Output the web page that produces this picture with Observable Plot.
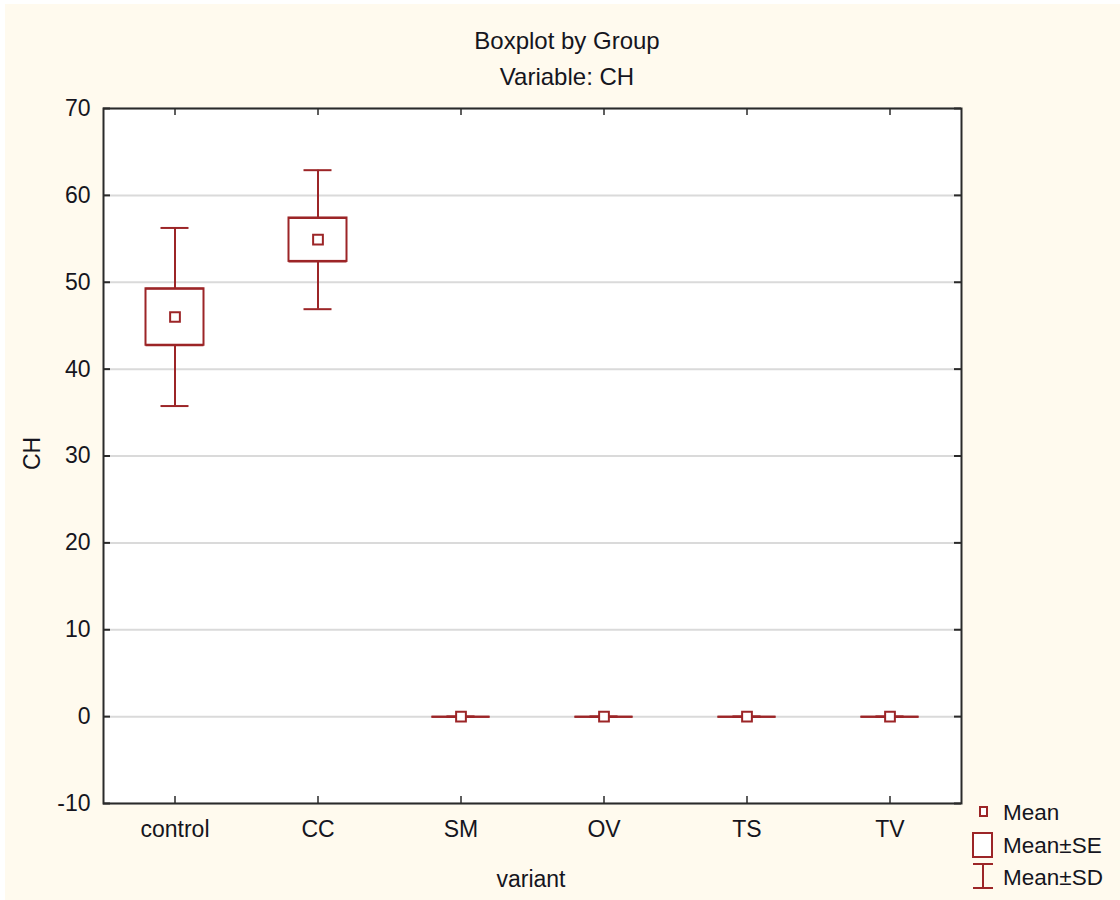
<!DOCTYPE html>
<html>
<head>
<meta charset="utf-8">
<script src="https://cdn.jsdelivr.net/npm/d3@7"></script>
<script src="https://cdn.jsdelivr.net/npm/@observablehq/plot@0.6"></script>
<style>
  html, body { margin: 0; padding: 0; background: #ffffff; }
  #page { position: relative; width: 1120px; height: 900px; overflow: hidden; background: #ffffff;
          font-family: "Liberation Sans", Arial, sans-serif; color: #151520; }
  #cream { position: absolute; left: 5px; top: 4px; right: 0; bottom: 0; background: #fffaee; }
  #chart { position: absolute; left: 0; top: 0; }
  .title { position: absolute; left: 0; width: 1134px; text-align: center; font-size: 24px; line-height: 1; }
  .axlabel { position: absolute; font-size: 23px; line-height: 1; }
  #legend { position: absolute; left: 970px; top: 798px; font-size: 22.5px; }
  #legend .row { position: absolute; left: 0; white-space: nowrap; }
  #legend svg { position: absolute; left: 0; }
  #legend span { position: absolute; left: 33px; }
</style>
</head>
<body>
<div id="page">
  <div id="cream"></div>
  <div class="title" style="top:29px">Boxplot by Group</div>
  <div class="title" style="top:65px">Variable: CH</div>
  <div id="chart"></div>
  <div class="axlabel" style="left:21px; top:446px; width:24px; height:24px;">
    <div style="transform: rotate(-90deg); transform-origin: 12px 12px; width:40px;">CH</div>
  </div>
  <div class="axlabel" style="left:0; width:1062px; text-align:center; top:868px;">variant</div>
  <div id="legend"></div>
</div>
<script>
// ---- data ----
const groups = ["control", "CC", "SM", "OV", "TS", "TV"];
const means  = [46.0, 54.9, 0, 0, 0, 0];
const ses    = [3.25, 2.5, 0, 0, 0, 0];
const sds    = [10.25, 8.0, 0, 0, 0, 0];
const yTicks = [-10, 0, 10, 20, 30, 40, 50, 60, 70];
const legendLabels = ["Mean", "Mean\u00B1SE", "Mean\u00B1SD"];

const data = groups.map((g, i) => ({group: g, mean: means[i], se: ses[i], sd: sds[i]}));

const RED = "#9c2527";
const W = 1120, H = 900;
const mT = 108, mB = 97, mL = 103, mR = 159;
const pw = W - mL - mR, ph = H - mT - mB;
const tick = 7;

const chart = Plot.plot({
  width: W,
  height: H,
  marginTop: mT,
  marginBottom: mB,
  marginLeft: mL,
  marginRight: mR,
  style: {fontFamily: "'Liberation Sans', Arial, sans-serif", fontSize: "22px", background: "transparent", color: "#151520"},
  x: {type: "band", domain: groups, padding: 0},
  y: {domain: [-10, 70]},
  marks: [
    Plot.frame({fill: "white", stroke: "none"}),
    Plot.ruleY(yTicks, {stroke: "#dadada", strokeWidth: 2}),
    // SD whiskers
    Plot.ruleX(data, {x: "group", y1: d => d.mean + d.se, y2: d => d.mean + d.sd, stroke: RED, strokeWidth: 2}),
    Plot.ruleX(data, {x: "group", y1: d => d.mean - d.se, y2: d => d.mean - d.sd, stroke: RED, strokeWidth: 2}),
    Plot.tickY(data, {x: "group", y: d => d.mean + d.sd, stroke: RED, strokeWidth: 2, insetLeft: 57.5, insetRight: 57.5}),
    Plot.tickY(data, {x: "group", y: d => d.mean - d.sd, stroke: RED, strokeWidth: 2, insetLeft: 57.5, insetRight: 57.5}),
    // SE box
    Plot.barY(data, {x: "group", y1: d => d.mean - d.se, y2: d => d.mean + d.se, fill: "white", stroke: RED, strokeWidth: 2, insetLeft: 42.5, insetRight: 42.5}),
    Plot.tickY(data, {x: "group", y: d => d.mean + d.se, stroke: RED, strokeWidth: 2, insetLeft: 42.5, insetRight: 42.5}),
    Plot.tickY(data, {x: "group", y: d => d.mean - d.se, stroke: RED, strokeWidth: 2, insetLeft: 42.5, insetRight: 42.5}),
    // mean
    Plot.dot(data, {x: "group", y: "mean", symbol: "square", r: 5.5, stroke: RED, strokeWidth: 2, fill: "white"}),
    // frame
    Plot.frame({stroke: "#2a2a2a", strokeWidth: 2}),
    // inward ticks
    Plot.ruleY(yTicks, {stroke: "#2a2a2a", strokeWidth: 2, insetRight: pw - tick}),
    Plot.ruleY(yTicks, {stroke: "#2a2a2a", strokeWidth: 2, insetLeft: pw - tick}),
    Plot.ruleX(groups, {x: d => d, stroke: "#2a2a2a", strokeWidth: 1.5, insetBottom: ph - tick}),
    Plot.ruleX(groups, {x: d => d, stroke: "#2a2a2a", strokeWidth: 1.5, insetTop: ph - tick}),
    // axes (labels only)
    Plot.axisY(yTicks, {tickSize: 0, tickPadding: 13, label: null, fontSize: 23, tickFormat: d => String(d)}),
    Plot.axisX({tickSize: 0, tickPadding: 17, label: null, fontSize: 23})
  ]
});
document.getElementById("chart").appendChild(chart);

// ---- legend ----
const legend = document.getElementById("legend");
const ns = "http://www.w3.org/2000/svg";
const rowsTop = [0, 33, 65];
legendLabels.forEach((lab, i) => {
  const row = document.createElement("div");
  row.className = "row";
  row.style.top = rowsTop[i] + "px";
  const svg = document.createElementNS(ns, "svg");
  svg.setAttribute("width", 26);
  svg.setAttribute("height", 30);
  svg.style.top = "0px";
  let inner = "";
  if (i === 0) inner = `<rect x="10" y="9" width="7" height="9" fill="white" stroke="${RED}" stroke-width="2"/>`;
  if (i === 1) inner = `<rect x="3" y="2" width="19" height="24" fill="white" stroke="${RED}" stroke-width="2"/>`;
  if (i === 2) inner = `<path d="M3,1H23M13,1V25M3,25H23" fill="none" stroke="${RED}" stroke-width="2"/>`;
  svg.innerHTML = inner;
  row.appendChild(svg);
  const sp = document.createElement("span");
  sp.textContent = lab;
  sp.style.top = "2px";
  row.appendChild(sp);
  legend.appendChild(row);
});
</script>
</body>
</html>
